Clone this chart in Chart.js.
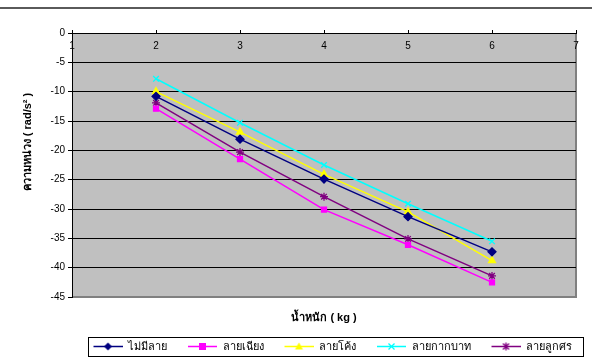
<!DOCTYPE html>
<html>
<head>
<meta charset="utf-8">
<script src="https://cdn.jsdelivr.net/npm/chart.js@4/dist/chart.umd.min.js"></script>
<style>
  html, body { margin: 0; padding: 0; background: #fff; }
  #wrap { position: relative; width: 592px; height: 360px; }
  #topline { position: absolute; left: 0; top: 7px; width: 592px; border-top: 2px solid #5a5a5a; }
</style>
</head>
<body>
<div id="wrap">
  <div id="topline"></div>
  <canvas id="chart" width="592" height="360"></canvas>
</div>
<script>
// ข้อมูล (อ่านจากกราฟ)
const weights = [2, 3, 4, 5, 6];
const seriesNames = ['ไม่มีลาย', 'ลายเฉียง', 'ลายโค้ง', 'ลายกากบาท', 'ลายลูกศร'];
const noPattern = [-10.8, -18.1, -24.9, -31.3, -37.3];
const diagonal  = [-12.9, -21.5, -30.1, -36.1, -42.5];
const curved    = [-10.0, -16.9, -24.1, -30.5, -38.8];
const crossHatch = [-7.8, -15.3, -22.5, -29.1, -35.5];
const arrow     = [-11.9, -20.3, -27.9, -35.1, -41.4];
const xTitle = 'น้ำหนัก ( kg )';
const yTitle = 'ความหน่วง ( rad/s² )';

const FONT = 'Arial, "Liberation Sans", sans-serif';
const seriesValues = [noPattern, diagonal, curved, crossHatch, arrow];
const colors = ['#000080', '#ff00ff', '#ffff00', '#00ffff', '#800080'];
const markers = ['rectRot', 'rect', 'triangle', 'crossRot', 'star'];
const LEAD = 17; // ช่องว่างหน้าไอคอนตำนาน

// ไอคอนตำนาน: เส้น + เครื่องหมาย
function drawMarker(c, style, x, y, r, color) {
  c.fillStyle = color; c.strokeStyle = color; c.lineWidth = 1.3;
  c.beginPath();
  if (style === 'rectRot') {
    c.moveTo(x, y - r); c.lineTo(x + r, y); c.lineTo(x, y + r); c.lineTo(x - r, y); c.closePath(); c.fill();
  } else if (style === 'rect') {
    c.fillRect(x - r + 0.5, y - r + 0.5, 2 * r - 1, 2 * r - 1);
  } else if (style === 'triangle') {
    c.moveTo(x, y - r); c.lineTo(x + r, y + r - 1); c.lineTo(x - r, y + r - 1); c.closePath(); c.fill();
  } else {
    c.moveTo(x - r + 1, y - r + 1); c.lineTo(x + r - 1, y + r - 1);
    c.moveTo(x + r - 1, y - r + 1); c.lineTo(x - r + 1, y + r - 1);
    if (style === 'star') { c.moveTo(x, y - r); c.lineTo(x, y + r); }
    c.stroke();
  }
}
function legendIcon(i) {
  const cv = document.createElement('canvas');
  cv.width = LEAD + 29; cv.height = 11;
  const c = cv.getContext('2d');
  c.strokeStyle = colors[i]; c.lineWidth = 1.5;
  c.beginPath(); c.moveTo(LEAD, 5.5); c.lineTo(LEAD + 29, 5.5); c.stroke();
  drawMarker(c, markers[i], LEAD + 14.5, 5.5, 4, colors[i]);
  return cv;
}

const datasets = seriesNames.map((name, i) => ({
  label: name,
  data: weights.map((w, j) => ({ x: w, y: seriesValues[i][j] })),
  borderColor: colors[i],
  backgroundColor: colors[i],
  borderWidth: 1.5,
  pointStyle: markers[i],
  pointRadius: markers[i] === 'rect' ? 3.5 : 4,
  pointBorderWidth: 1.3,
  tension: 0
}));

const plotFrame = {
  id: 'plotFrame',
  beforeDraw(chart) {
    const { ctx, chartArea: a } = chart;
    ctx.save();
    ctx.fillStyle = '#c0c0c0';
    ctx.fillRect(a.left, a.top, a.right - a.left, a.bottom - a.top);
    ctx.strokeStyle = '#808080';
    ctx.lineWidth = 2;
    ctx.beginPath();
    ctx.moveTo(a.right, a.top); ctx.lineTo(a.right, a.bottom); ctx.lineTo(a.left, a.bottom);
    ctx.stroke();
    ctx.restore();
  },
  afterDraw(chart) {
    const ctx = chart.ctx;
    // ชื่อแกน y
    ctx.save();
    ctx.translate(28, 142);
    ctx.rotate(-Math.PI / 2);
    ctx.font = 'bold 11px ' + FONT;
    ctx.fillStyle = '#000';
    ctx.textAlign = 'center';
    ctx.textBaseline = 'middle';
    ctx.fillText(yTitle, 0, 0);
    ctx.restore();
    // กรอบตำนาน
    const hb = chart.legend.legendHitBoxes;
    if (hb && hb.length) {
      const first = hb[0], last = hb[hb.length - 1];
      const left = first.left + LEAD - 6, right = last.left + last.width + 10;
      ctx.save();
      ctx.strokeStyle = '#000';
      ctx.lineWidth = 1;
      ctx.strokeRect(Math.round(left) + 0.5, Math.round(first.top - 4) + 0.5,
        Math.round(right - left), Math.round(first.height + 8));
      ctx.restore();
    }
  }
};

new Chart(document.getElementById('chart'), {
  type: 'line',
  data: { datasets },
  plugins: [plotFrame],
  options: {
    responsive: false,
    animation: false,
    layout: { padding: { top: 33, right: 16, left: 0, bottom: -2 } },
    scales: {
      x: {
        type: 'linear',
        position: { y: 0 },
        min: 1, max: 7,
        ticks: { stepSize: 1, color: '#000', font: { size: 10, family: FONT }, padding: 11 },
        grid: { drawOnChartArea: false, drawTicks: true, tickLength: -4, tickColor: '#000' },
        border: { color: '#000', width: 1 }
      },
      x2: {
        type: 'linear',
        position: 'bottom',
        display: true,
        afterFit(scale) { scale.height = 40; },
        ticks: { display: false },
        grid: { display: false },
        border: { display: false },
        title: { display: true, text: xTitle, color: '#000', font: { size: 11, weight: 'bold', family: FONT }, padding: { top: 0, bottom: 12 } }
      },
      y: {
        type: 'linear',
        position: 'left',
        min: -45, max: 0,
        afterFit(scale) { scale.width = 72; },
        ticks: { stepSize: 5, color: '#000', font: { size: 10, family: FONT }, padding: 3 },
        grid: {
          color: ctx => (ctx.tick && ctx.tick.value === -45) ? '#808080' : '#000',
          tickColor: '#000', tickLength: 4, lineWidth: 1
        },
        border: { color: '#000', width: 1 }
      }
    },
    plugins: {
      legend: {
        position: 'bottom',
        align: 'end',
        labels: {
          usePointStyle: true,
          pointStyleWidth: LEAD + 29,
          generateLabels(chart) {
            return chart.data.datasets.map((ds, i) => ({
              text: ds.label, pointStyle: legendIcon(i), fontColor: '#000',
              lineWidth: 0, hidden: false, datasetIndex: i
            }));
          },
          font: { size: 11, family: FONT },
          color: '#000',
          padding: 4
        }
      },
      tooltip: { enabled: false }
    }
  }
});
</script>
</body>
</html>
